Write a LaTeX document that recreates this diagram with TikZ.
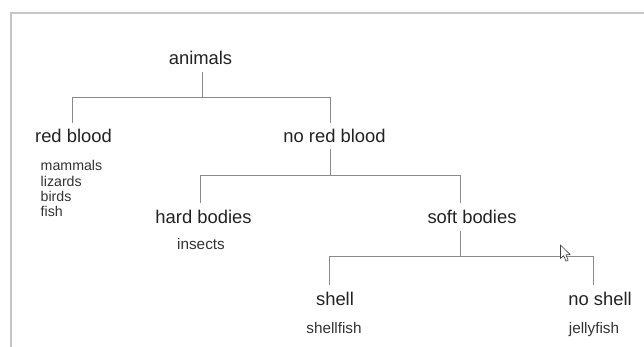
\documentclass[tikz,border=0pt]{standalone}
\usepackage{fontspec}
\setmainfont{Liberation Sans}
\definecolor{linegray}{HTML}{8A8A8A}
\definecolor{framegray}{HTML}{C6C6C6}
\definecolor{textdark}{HTML}{222222}
\definecolor{textsmall}{HTML}{333333}
\begin{document}
\begin{tikzpicture}[x=1pt,y=-1pt,
  big/.style={inner sep=0pt,anchor=base,text=textdark,font=\fontsize{18.4}{20}\selectfont},
  small/.style={inner sep=0pt,anchor=base,text=textsmall,font=\fontsize{15.3}{17}\selectfont},
  listtxt/.style={inner sep=0pt,anchor=base west,text=textsmall,font=\fontsize{14.2}{15.3}\selectfont},
  conn/.style={draw=linegray,line width=0.9pt}]
\useasboundingbox (0,0) rectangle (644,347);
% frame
\draw[framegray,line width=2pt] (11,348) -- (11,13) -- (645,13);
% nodes
\node[big] (animals) at (200.5,65) {animals};
\node[big] (redblood) at (73.5,142.7) {red blood};
\node[big] (noredblood) at (334.5,142.5) {no red blood};
\node[big] (hard) at (203.5,223.2) {hard bodies};
\node[big] (soft) at (472,223.2) {soft bodies};
\node[big] (shell) at (335,305.5) {shell};
\node[big] (noshell) at (600,305.5) {no shell};
\node[listtxt] (mammals) at (40.5,170.7) {mammals};
\node[listtxt] (lizards) at (40.5,186.1) {lizards};
\node[listtxt] (birds) at (40.5,201.5) {birds};
\node[listtxt] (fish) at (40.5,216.8) {fish};
\node[small] (insects) at (201,249) {insects};
\node[small] (shellfish) at (334,333) {shellfish};
\node[small] (jellyfish) at (594,333) {jellyfish};
% connector end points
\coordinate (animals-out) at (202.7,72);
\coordinate (redblood-in) at (72.7,123);
\coordinate (noredblood-in) at (330,123);
\coordinate (j1) at (202.7,97.5);
\coordinate (noredblood-out) at (330,149);
\coordinate (hard-in) at (200,203.3);
\coordinate (soft-in) at (460.7,203.3);
\coordinate (j2) at (330,175.7);
\coordinate (soft-out) at (460.7,230.7);
\coordinate (shell-in) at (329,285);
\coordinate (noshell-in) at (593.5,285);
\coordinate (j3) at (460.7,256.8);
% connectors
\draw[conn] (animals-out) -- (j1);
\draw[conn] (redblood-in) |- (j1) -| (noredblood-in);
\draw[conn] (noredblood-out) -- (j2);
\draw[conn] (hard-in) |- (j2) -| (soft-in);
\draw[conn] (soft-out) -- (j3);
\draw[conn] (shell-in) |- (j3) -| (noshell-in);
% mouse pointer
\draw[fill=white,draw=black!75,line width=0.6pt,line join=round]
  (560.5,245) -- (560.5,258.5) -- (563.6,255.6) -- (566,261.2) -- (568.2,260.2)
  -- (565.9,254.8) -- (570.2,254.6) -- cycle;
\end{tikzpicture}
\end{document}
